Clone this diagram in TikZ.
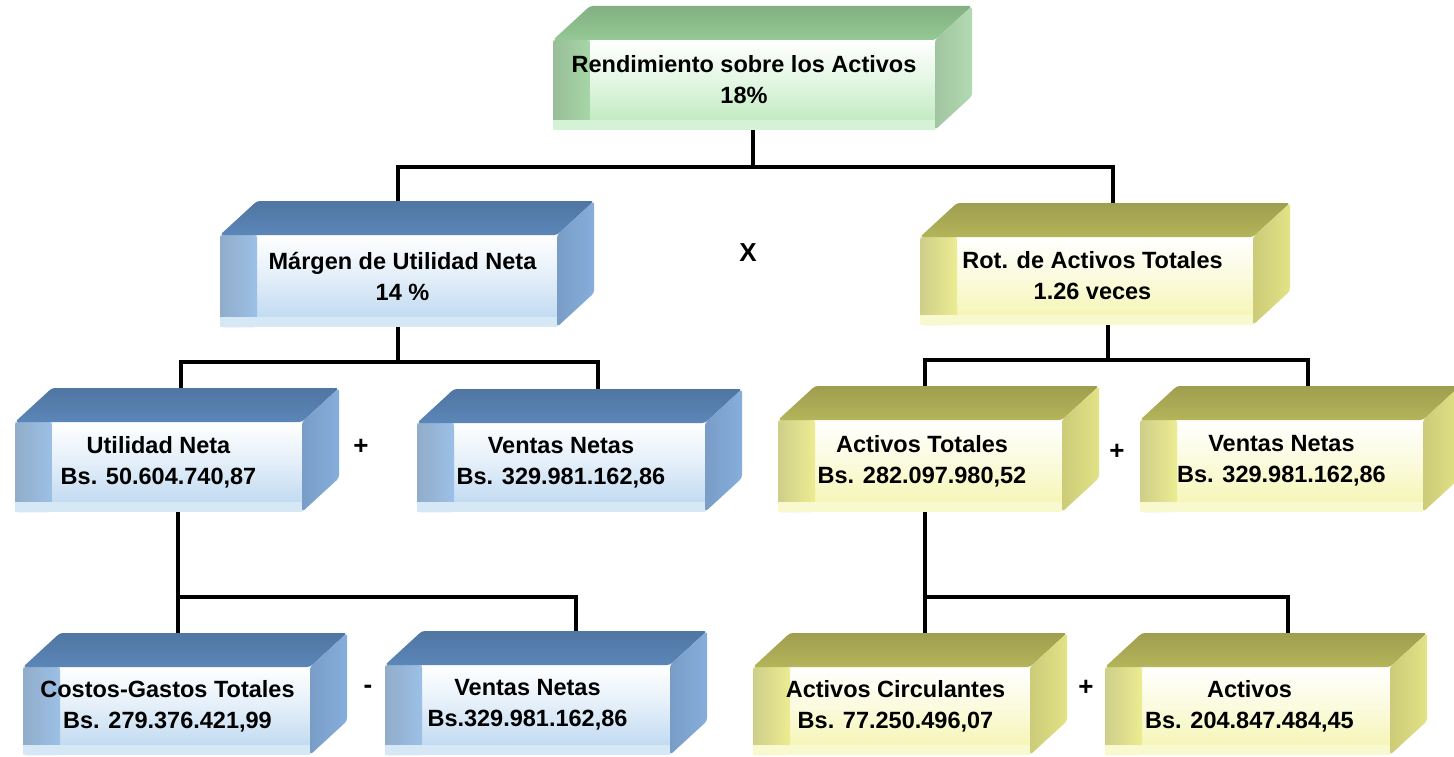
\documentclass[tikz,border=0pt]{standalone}
\usepackage{fontspec}
\setmainfont{Liberation Sans}
\usetikzlibrary{calc}

% palettes: top face, right face, left strip, front face
\definecolor{grntop}{HTML}{94C894}
\definecolor{grnright}{HTML}{B2DAB2}
\definecolor{grnleft}{HTML}{A6D6A6}
\definecolor{grnfront}{HTML}{C4ECC4}
\definecolor{blutop}{HTML}{5B86B8}
\definecolor{bluright}{HTML}{86AEDC}
\definecolor{bluleft}{HTML}{9CC0E6}
\definecolor{blufront}{HTML}{C4DCF2}
\definecolor{yeltop}{HTML}{B4B45A}
\definecolor{yelright}{HTML}{E2E286}
\definecolor{yelleft}{HTML}{ECEC92}
\definecolor{yelfront}{HTML}{F6F6BA}

\newcommand\cbdx{37}
\newcommand\cbdy{34}

% a bevelled block: #1 name, #2 left, #3 front top, #4 right, #5 bottom,
% #6 palette, #7 text x offset, #8 text
\newcommand\cubebox[8]{%
  \pgfmathsetmacro\cbw{#4-#2}%
  \pgfmathsetmacro\cbh{#5-#3}%
  \node[face, fill=#6front, minimum width=\cbw pt, minimum height=\cbh pt,
        anchor=north west] (#1) at (#2,#3) {};
  % front face: light band on top fading down
  \shade[top color=white, bottom color=#6front, middle color=#6front!45!white]
    ([xshift=\cbdx pt]#1.north west) rectangle ([yshift=12pt]#1.south east);
  % left strip
  \shade[left color=#6left!85!black!90, right color=#6left, rounded corners=3pt]
    (#1.north west) rectangle ([xshift=\cbdx pt]#1.south west);
  % bottom band
  \fill[#6front!70!white] ([yshift=10pt]#1.south west) rectangle (#1.south east);
  % top face
  \shade[top color=#6top!88!black, bottom color=#6top, rounded corners=3pt]
    (#1.north west) -- ++(\cbdx,-\cbdy) -- ([shift={(\cbdx,-\cbdy)}]#1.north east)
    -- (#1.north east) -- cycle;
  % right face
  \shade[left color=#6right!90!black, right color=#6right, rounded corners=3pt]
    (#1.north east) -- ++(\cbdx,-\cbdy) -- ([shift={(\cbdx,-\cbdy)}]#1.south east)
    -- (#1.south east) -- cycle;
  \node[txt] (#1-t) at ([xshift=#7pt, yshift=5pt]#1.center) {#8};
}

\tikzset{
  face/.style={draw=none, inner sep=0pt, outer sep=0pt, rectangle},
  txt/.style={font=\fontsize{23.5}{31}\selectfont\bfseries, align=center,
              inner sep=0pt, text=black},
  conn/.style={line width=4.5pt, draw=black},
  op/.style={font=\fontsize{26}{30}\selectfont\bfseries, inner sep=0pt}
}

\begin{document}
\begin{tikzpicture}[x=1pt, y=-1pt]
\useasboundingbox[fill=white] (0,0) rectangle (1454,757);

% ---- blocks (front faces only, for anchoring the connectors) ----
\node[face, minimum width=382pt, minimum height=90pt, anchor=north west] (top) at (553,40) {};
\node[face, minimum width=337pt, minimum height=92pt, anchor=north west] (mgn) at (220,235) {};
\node[face, minimum width=333pt, minimum height=88pt, anchor=north west] (rot) at (920,237) {};
\node[face, minimum width=287pt, minimum height=90pt, anchor=north west] (uti) at (15,422) {};
\node[face, minimum width=288pt, minimum height=89pt, anchor=north west] (vnl) at (417,423) {};
\node[face, minimum width=284pt, minimum height=92pt, anchor=north west] (act) at (778,420) {};
\node[face, minimum width=283pt, minimum height=92pt, anchor=north west] (vnr) at (1140,420) {};
\node[face, minimum width=287pt, minimum height=88pt, anchor=north west] (cgt) at (23,667) {};
\node[face, minimum width=285pt, minimum height=90pt, anchor=north west] (vnb) at (385,665) {};
\node[face, minimum width=277pt, minimum height=88pt, anchor=north west] (acc) at (753,667) {};
\node[face, minimum width=285pt, minimum height=88pt, anchor=north west] (afi) at (1105,667) {};

% ---- connector end points ----
\coordinate (top-out) at (top.south -| 753,0);
\coordinate (mgn-in)  at ([yshift=\cbdy pt]mgn.north -| 398,0);
\coordinate (rot-in)  at ([yshift=\cbdy pt]rot.north -| 1113,0);
\coordinate (mgn-out) at (mgn.south -| 398,0);
\coordinate (uti-in)  at ([yshift=\cbdy pt]uti.north -| 181,0);
\coordinate (vnl-in)  at ([yshift=\cbdy pt]vnl.north -| 598,0);
\coordinate (rot-out) at (rot.south -| 1108,0);
\coordinate (act-in)  at ([yshift=\cbdy pt]act.north -| 925,0);
\coordinate (vnr-in)  at ([yshift=\cbdy pt]vnr.north -| 1308,0);
\coordinate (uti-out) at (uti.south -| 178,0);
\coordinate (cgt-in)  at ([yshift=\cbdy pt]cgt.north -| 178,0);
\coordinate (vnb-in)  at ([yshift=\cbdy pt]vnb.north -| 576,0);
\coordinate (act-out) at (act.south -| 925,0);
\coordinate (acc-in)  at ([yshift=\cbdy pt]acc.north -| 925,0);
\coordinate (afi-in)  at ([yshift=\cbdy pt]afi.north -| 1288,0);

% ---- connectors ----
\draw[conn] (top-out) -- ++(0,37) -| (mgn-in);
\draw[conn] (top-out) -- ++(0,37) -| (rot-in);
\draw[conn] (mgn-out) -- ++(0,35) -| (uti-in);
\draw[conn] (mgn-out) -- ++(0,35) -| (vnl-in);
\draw[conn] (rot-out) -- ++(0,35) -| (act-in);
\draw[conn] (rot-out) -- ++(0,35) -| (vnr-in);
\draw[conn] (uti-out) -- (cgt-in);
\draw[conn] (uti-out) -- ++(0,85) -| (vnb-in);
\draw[conn] (act-out) -- (acc-in);
\draw[conn] (act-out) -- ++(0,85) -| (afi-in);

% ---- blocks ----
\cubebox{top}{553}{40}{935}{130}{grn}{0}{Rendimiento sobre los Activos\\18\%}
\cubebox{mgn}{220}{235}{557}{327}{blu}{14}{Márgen de Utilidad Neta\\14 \%}
\cubebox{rot}{920}{237}{1253}{325}{yel}{6}{Rot. de Activos Totales\\1.26 veces}
\cubebox{uti}{15}{422}{302}{512}{blu}{0}{Utilidad Neta\\Bs. 50.604.740,87}
\cubebox{vnl}{417}{423}{705}{512}{blu}{0}{Ventas Netas\\Bs. 329.981.162,86}
\cubebox{act}{778}{420}{1062}{512}{yel}{2}{Activos Totales\\Bs. 282.097.980,52}
\cubebox{vnr}{1140}{420}{1423}{512}{yel}{0}{Ventas Netas\\Bs. 329.981.162,86}
\cubebox{cgt}{23}{667}{310}{755}{blu}{1}{Costos-Gastos Totales\\Bs. 279.376.421,99}
\cubebox{vnb}{385}{665}{670}{755}{blu}{0}{Ventas Netas\\Bs.329.981.162,86}
\cubebox{acc}{753}{667}{1030}{755}{yel}{4}{Activos Circulantes\\Bs. 77.250.496,07}
\cubebox{afi}{1105}{667}{1390}{755}{yel}{2}{Activos\\Bs. 204.847.484,45}

% ---- operators ----
\node[op] (opx) at (748,253) {X};
\node[op] (op1) at (361,447) {+};
\node[op] (op2) at (1117,452) {+};
\node[op] (op3) at (368,689) {-};
\node[op] (op4) at (1086,688) {+};
\end{tikzpicture}
\end{document}
